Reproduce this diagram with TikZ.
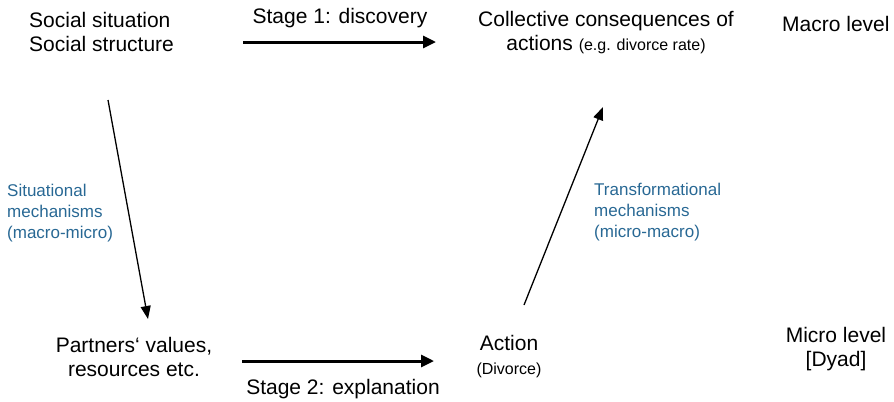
\documentclass[tikz,border=0pt]{standalone}
\usepackage{fontspec}
\setmainfont{Liberation Sans}
\usetikzlibrary{arrows.meta}
\definecolor{mechblue}{RGB}{40,104,148}
\begin{document}
\begin{tikzpicture}[x=1bp,y=-1bp,
  maintext/.style={inner sep=0pt,font=\fontsize{21bp}{24bp}\selectfont},
  mechtext/.style={inner sep=0pt,text=mechblue,align=left,font=\fontsize{17bp}{21bp}\selectfont},
  bigarrow/.style={line width=3bp,-{Triangle[length=13bp,width=12bp]}},
  thinarrow/.style={line width=1.3bp,-{Triangle[length=13bp,width=10bp]}}]
\newcommand\smalltxt{\fontsize{16bp}{19bp}\selectfont}
\useasboundingbox (0,0) rectangle (894,401);
% macro level
\node[maintext,align=left,anchor=west] (ss) at (29,32) {Social situation\\Social structure};
\node[maintext,anchor=south] (st1) at (340,28) {Stage 1: discovery};
\node[maintext,align=center] (cc) at (606,33) {Collective consequences of\\actions {\smalltxt (e.g. divorce rate)}};
\node[maintext,anchor=west] (macro) at (782,24) {Macro level};
% mechanisms
\node[mechtext,anchor=west] (sm) at (7,213) {Situational\\mechanisms\\(macro-micro)};
\node[mechtext,anchor=west] (tm) at (594,212) {Transformational\\mechanisms\\(micro-macro)};
% micro level
\node[maintext,align=center] (pv) at (134,357) {Partners‘ values,\\resources etc.};
\node[maintext,anchor=north] (st2) at (343,379) {Stage 2: explanation};
\node[maintext,align=center] (act) at (509,357) {Action\\{\smalltxt (Divorce)}};
\node[maintext,align=center] (micro) at (836,349) {Micro level\\{}[Dyad]};
% connectors
\coordinate (s1a) at (243,42);
\coordinate (s1b) at (436,42);
\coordinate (s2a) at (242,361);
\coordinate (s2b) at (434,361);
\coordinate (sma) at (108,100);
\coordinate (smb) at (148,319);
\coordinate (tma) at (524,305);
\coordinate (tmb) at (603,107);
\draw[bigarrow] (s1a) -- (s1b);
\draw[bigarrow] (s2a) -- (s2b);
\draw[thinarrow] (sma) -- (smb);
\draw[thinarrow] (tma) -- (tmb);
\end{tikzpicture}
\end{document}
